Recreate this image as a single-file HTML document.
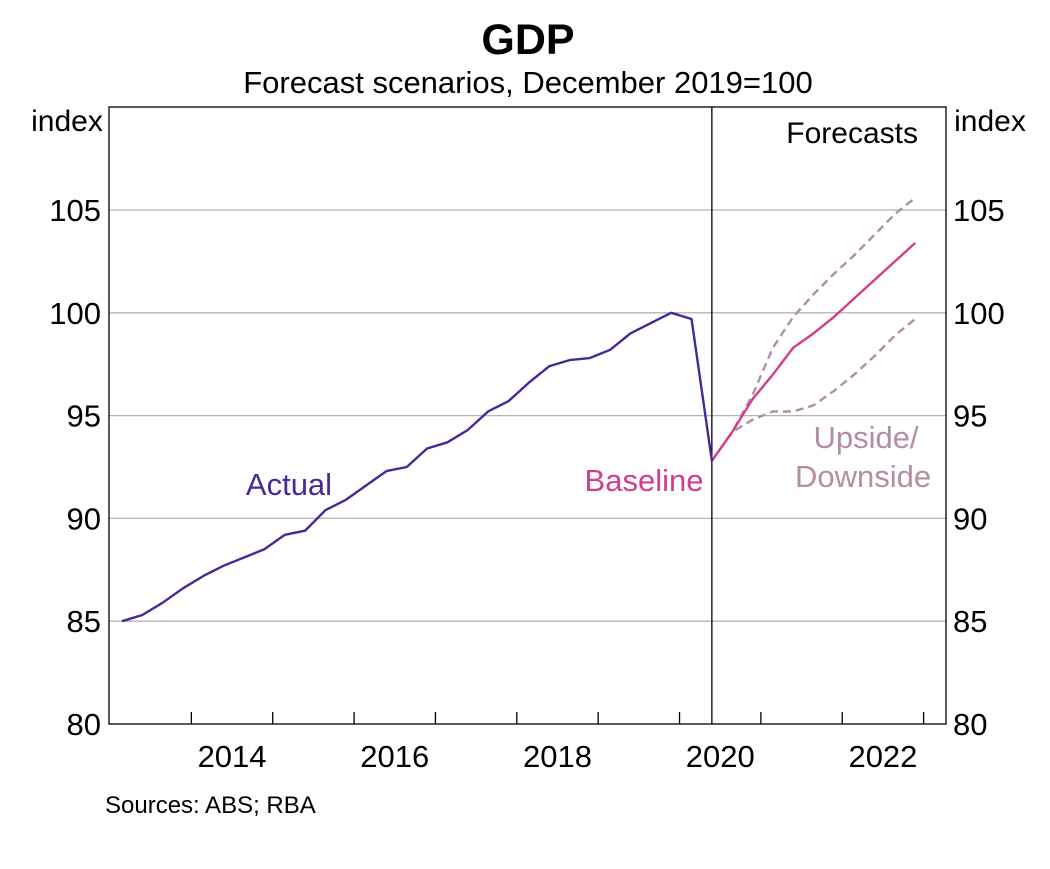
<!DOCTYPE html>
<html><head><meta charset="utf-8"><style>
body{margin:0;background:#fff;font-family:"Liberation Sans",Arial,sans-serif;}
svg text{font-family:"Liberation Sans",Arial,sans-serif;}
</style></head><body>
<svg id="c" width="1050" height="864" xmlns="http://www.w3.org/2000/svg">
<rect width="1050" height="864" fill="#fff"/>
<text x="528" y="54" text-anchor="middle" font-size="43" font-weight="bold">GDP</text>
<text x="528" y="93" text-anchor="middle" font-size="31">Forecast scenarios, December 2019=100</text>
<text x="67" y="131" text-anchor="middle" font-size="30">index</text>
<text x="990" y="131" text-anchor="middle" font-size="30">index</text>
<g id="grid"></g>
<g id="series"></g>
<rect x="109" y="107" width="837" height="617" fill="none" stroke="#000" stroke-width="1.3"/>
<text x="918" y="143" text-anchor="end" font-size="30">Forecasts</text>
<text x="289" y="495" text-anchor="middle" font-size="31" fill="#4a2796">Actual</text>
<text x="644" y="491" text-anchor="middle" font-size="31" fill="#d23d8c">Baseline</text>
<text x="866" y="448" text-anchor="middle" font-size="31" fill="#b28da3">Upside/</text>
<text x="863" y="487" text-anchor="middle" font-size="31" fill="#b28da3">Downside</text>
<text x="105" y="813" font-size="24">Sources: ABS; RBA</text>
</svg>
<script>
const yTicks=[80,85,90,95,100,105];
const yearLabels=[2014,2016,2018,2020,2022];
const actual=[85.0,85.3,85.9,86.6,87.2,87.7,88.1,88.5,89.2,89.4,90.4,90.9,91.6,92.3,92.5,93.4,93.7,94.3,95.2,95.7,96.6,97.4,97.7,97.8,98.2,99.0,99.5,100.0,99.7,92.8];
const baseline=[92.8,94.2,95.8,97.0,98.3,99.0,99.8,100.7,101.6,102.5,103.4];
const upside=[92.8,94.2,96.0,98.3,99.8,100.9,101.9,102.8,103.8,104.8,105.6];
const downside=[92.8,94.2,94.8,95.2,95.2,95.5,96.2,97.0,97.9,98.9,99.7];
const NS="http://www.w3.org/2000/svg";
function y(v){return 724-(v-80)*20.56;}
function xq(i){return 122+i*20.34;}
function xy(yr){return 110+(yr-2013)*81.36;}
const grid=document.getElementById('grid'),ser=document.getElementById('series');
function mk(t,a,p){const e=document.createElementNS(NS,t);for(const k in a)e.setAttribute(k,a[k]);p.appendChild(e);return e;}
yTicks.forEach(v=>{
 if(v>80){const l=mk('line',{x1:109,x2:946,y1:y(v),y2:y(v),stroke:'#b4b4b4','stroke-width':1.3},grid);
 
 }
 const t1=mk('text',{x:101,y:y(v)+11,'text-anchor':'end','font-size':31},grid);t1.textContent=v;
 
 
 const t2=mk('text',{x:953,y:y(v)+11,'font-size':31},grid);t2.textContent=v;
 
 
});
for(let yr=2014;yr<=2023;yr++){const l=mk('line',{x1:xy(yr),x2:xy(yr),y1:724,y2:712,stroke:'#000','stroke-width':1.3},grid);
 
 }
yearLabels.forEach(yr=>{const t=mk('text',{x:xy(yr)+40.7,y:767,'text-anchor':'middle','font-size':31},grid);t.textContent=yr;
 
 });
const vl=mk('line',{x1:xq(29),x2:xq(29),y1:107,y2:724,stroke:'#000','stroke-width':1.3},grid);


function line(arr,start,color,dash,name){
 const p=mk('polyline',{points:arr.map((v,i)=>xq(start+i)+','+y(v)).join(' '),fill:'none',stroke:color,'stroke-width':2.4,'stroke-dasharray':dash||'none','stroke-linejoin':'round'},ser);
 
 
}
line(upside,29,'#b28da3','8,5','upside-line');
line(downside,29,'#b28da3','8,5','downside-line');
line(baseline,29,'#d23d8c',null,'baseline-line');
line(actual,0,'#4a2796',null,'actual-line');
</script>
</body></html>
